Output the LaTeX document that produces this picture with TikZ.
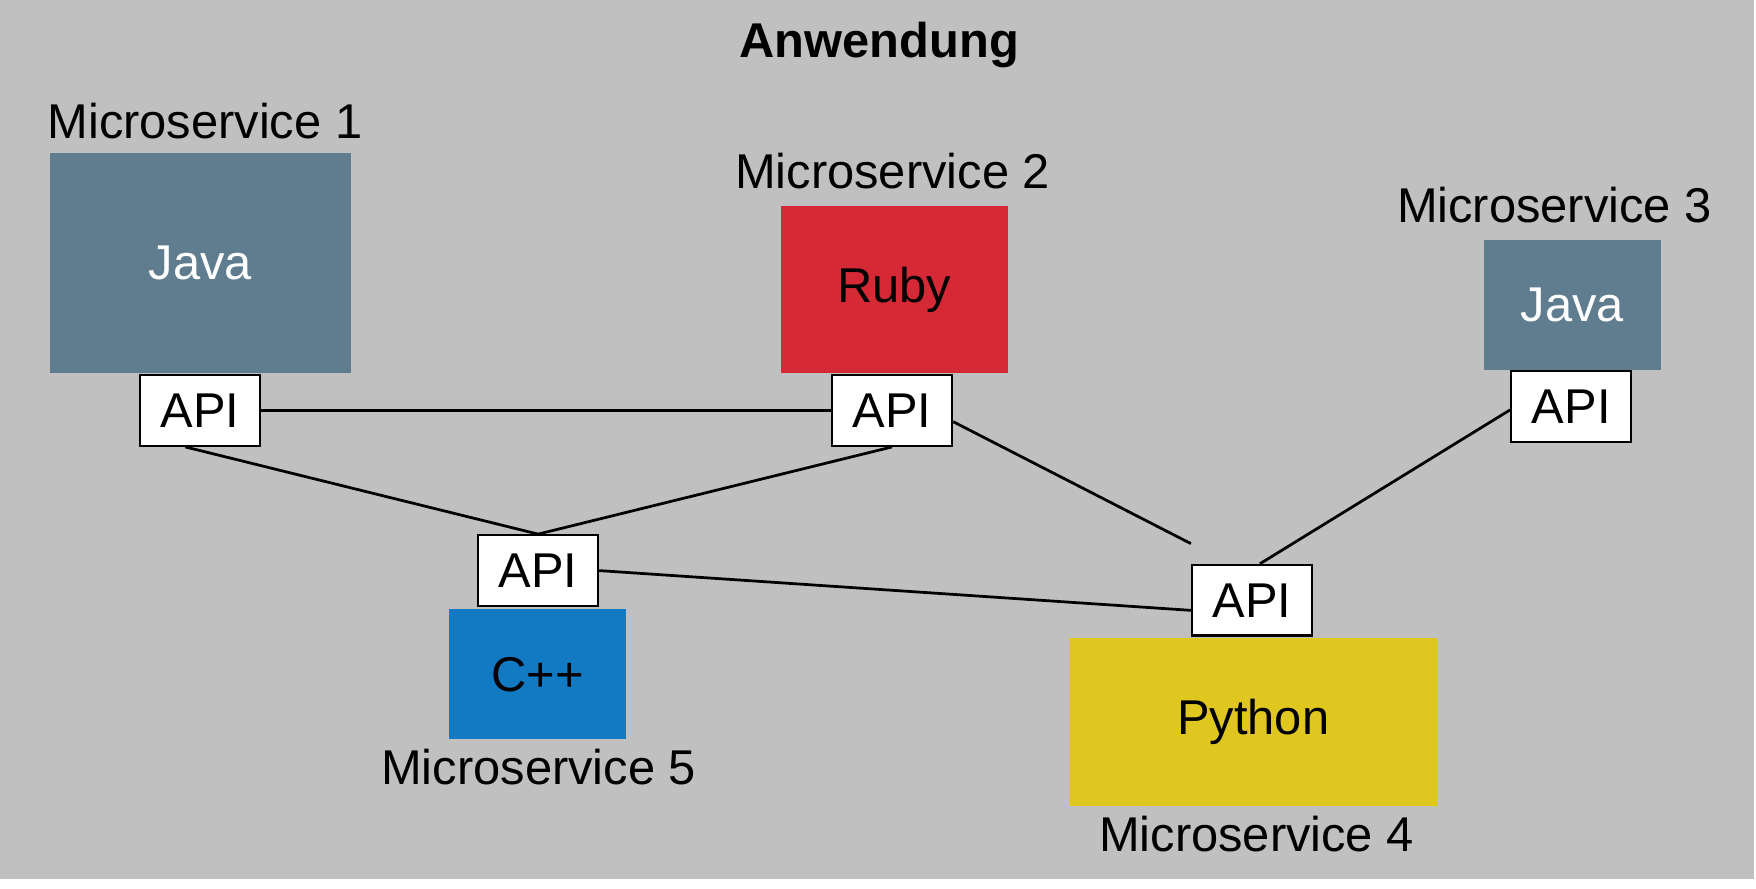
\documentclass[tikz,border=0pt]{standalone}
\usepackage{fontspec}
\setmainfont{Liberation Sans}
\begin{document}
\begin{tikzpicture}[x=0.01cm,y=-0.01cm,
  lbl/.style={font=\fontsize{12.4}{14}\selectfont,inner sep=0},
  box/.style={inner sep=0,font=\fontsize{12.4}{14}\selectfont},
  api/.style={draw=black,line width=0.6pt,fill=white,minimum width=1.07cm,minimum height=0.63cm,inner sep=0,font=\fontsize{12.4}{14}\selectfont},
  link/.style={line width=0.7pt}]
\definecolor{bg}{HTML}{C0C0C0}
\definecolor{slate}{HTML}{5F7D8E}
\definecolor{rb}{HTML}{D62936}
\definecolor{cb}{HTML}{1279C3}
\definecolor{py}{HTML}{DFC71F}
\useasboundingbox (0,0) rectangle (1568,793);
\fill[bg] (0,0) rectangle (1566,785);
\node[lbl,font=\bfseries\fontsize{12.4}{14}\selectfont] (title) at (785,40) {Anwendung};
% MS1
\node[lbl] (l1) at (183,108) {Microservice 1};
\node[box,fill=slate,text=white,minimum width=2.68cm,minimum height=1.96cm] (j1) at (179,235) {Java};
\node[api] (a1) at (178.5,366.5) {API};
% MS2
\node[lbl] (l2) at (797,153) {Microservice 2};
\node[box,fill=rb,minimum width=2.03cm,minimum height=1.49cm] (ruby) at (798.5,258.5) {Ruby};
\node[api] (a2) at (796.5,366.5) {API};
% MS3
\node[lbl] (l3) at (1388,183) {Microservice 3};
\node[box,fill=slate,text=white,minimum width=1.58cm,minimum height=1.16cm] (j3) at (1404,272) {Java};
\node[api] (a3) at (1403,363) {API};
% MS5
\node[api] (a5) at (480.5,509.5) {API};
\node[box,fill=cb,minimum width=1.58cm,minimum height=1.16cm] (cpp) at (480,602) {C++};
\node[lbl] (l5) at (481,685) {Microservice 5};
% MS4
\node[api] (a4) at (1118,536) {API};
\node[box,fill=py,minimum width=3.28cm,minimum height=1.50cm] (py) at (1119,645) {Python};
\node[lbl] (l4) at (1122,745) {Microservice 4};
% links
\draw[link] (a1.east) -- (a2.west);
\draw[link] ([xshift=-0.13cm]a1.south) -- (a5.north);
\draw[link] (a2.south) -- (a5.north);
\draw[link] ([yshift=-0.1cm]a2.east) -- ([yshift=0.18cm]a4.north west);
\draw[link] ([yshift=-0.03cm]a3.west) -- ([xshift=0.07cm]a4.north);
\draw[link] (a5.east) -- ([yshift=-0.09cm]a4.west);
\end{tikzpicture}
\end{document}
